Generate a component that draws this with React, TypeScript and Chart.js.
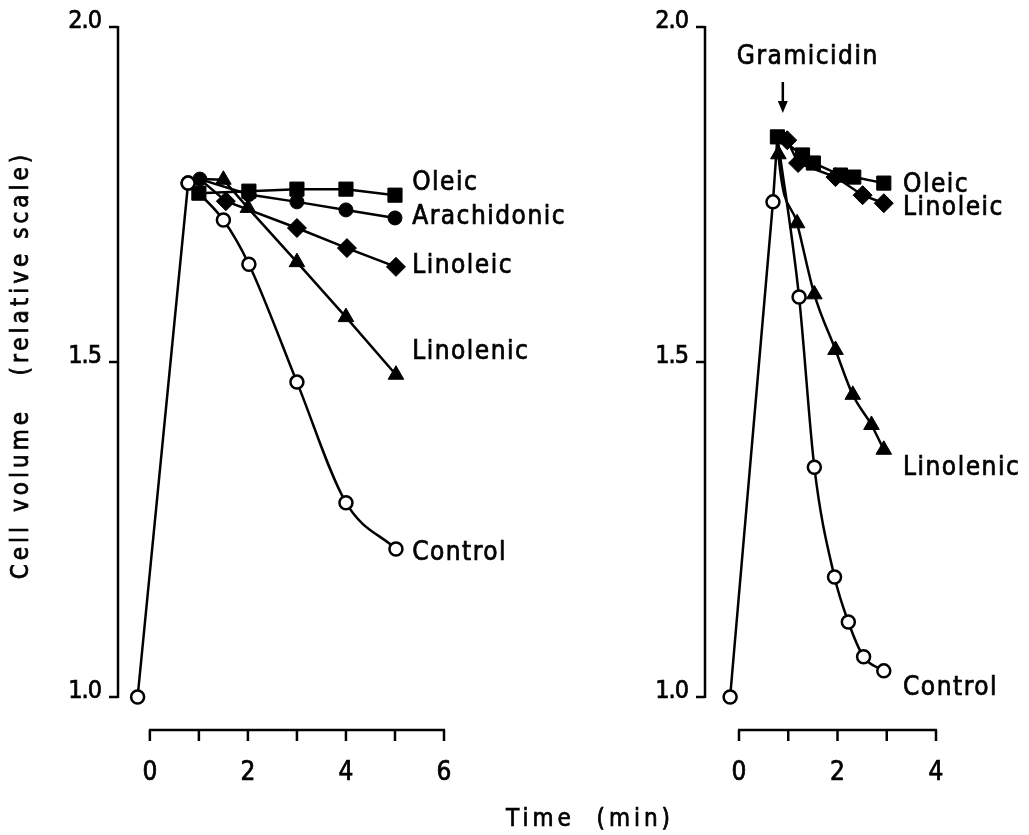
import React, { useEffect, useRef } from 'react';
import { Chart, registerables } from 'chart.js';
Chart.register(...registerables);

// ---------- data (time in min, relative cell volume) ----------
// Left panel
const L_CONTROL: number[][] = [[-0.25, 1.0], [0.78, 1.767], [1.5, 1.712], [2.02, 1.646], [3, 1.47], [4, 1.29], [5.02, 1.221]];
const L_START: number[] = [1.02, 1.773];
const L_OLEIC: number[][] = [[1.0, 1.752], [2.02, 1.755], [3, 1.758], [4, 1.758], [5, 1.749]];
const L_ARACHIDONIC: number[][] = [[1.02, 1.773], [2.02, 1.75], [3, 1.739], [4, 1.727], [5, 1.715]];
const L_LINOLEIC: number[][] = [[1.55, 1.74], [3, 1.7], [4.02, 1.67], [5.02, 1.642]];
const L_LINOLENIC: number[][] = [[1.5, 1.772], [2, 1.73], [3, 1.649], [4, 1.567], [5.02, 1.481]];

// Right panel
const R_CONTROL: number[][] = [[-0.18, 1.0], [0.69, 1.739], [0.78, 1.836], [1.22, 1.597], [1.53, 1.343], [1.94, 1.179], [2.22, 1.112], [2.53, 1.06], [2.94, 1.039]];
const R_PEAK: number[] = [0.78, 1.836];
const R_OLEIC: number[][] = [[0.78, 1.836], [1.29, 1.809], [1.51, 1.797], [2.06, 1.779], [2.33, 1.776], [2.94, 1.767]];
const R_LINOLEIC: number[][] = [[0.98, 1.831], [1.2, 1.797], [1.96, 1.776], [2.51, 1.749], [2.94, 1.737]];
const R_LINOLENIC: number[][] = [[0.8, 1.81], [1.18, 1.707], [1.53, 1.601], [1.96, 1.518], [2.31, 1.451], [2.69, 1.406], [2.94, 1.369]];

// Axis ticks
const Y_TICKS: number[] = [1.0, 1.5, 2.0];
const Y_TICK_LABELS: string[] = ['1.0', '1.5', '2.0'];
const L_X_TICKS: number[] = [0, 1, 2, 3, 4, 5, 6];
const L_X_LABELS: number[] = [0, 2, 4, 6];
const R_X_TICKS: number[] = [0, 1, 2, 3, 4];
const R_X_LABELS: number[] = [0, 2, 4];

// Series labels: [text, time, volume]
const L_SERIES_LABELS: [string, number, number][] = [
  ['Oleic', 5.35, 1.767],
  ['Arachidonic', 5.35, 1.716],
  ['Linoleic', 5.35, 1.643],
  ['Linolenic', 5.35, 1.515],
  ['Control', 5.35, 1.215],
];
const R_SERIES_LABELS: [string, number, number][] = [
  ['Oleic', 3.33, 1.764],
  ['Linoleic', 3.33, 1.73],
  ['Linolenic', 3.33, 1.342],
  ['Control', 3.33, 1.013],
];
const GRAMICIDIN_LABEL = 'Gramicidin';
const GRAMICIDIN_TIME = 0.89;
const Y_TITLE = 'Cell volume   (relative scale)';
const X_TITLE = 'Time  (min)';

const FONT = '"DejaVu Sans Condensed", "DejaVu Sans", sans-serif';

const toXY = (arr: number[][]) => arr.map(([x, y]) => ({ x, y }));

function boldText(ctx: CanvasRenderingContext2D, s: string, x: number, y: number) {
  ctx.fillText(s, x, y);
  ctx.save();
  ctx.lineWidth = 0.7;
  ctx.strokeText(s, x, y);
  ctx.restore();
}

const decor = {
  id: 'decor',
  afterDraw(chart: any, _a: any, opts: any) {
    const { ctx } = chart;
    const xs = chart.scales.x;
    const ys = chart.scales.y;
    ctx.save();
    ctx.strokeStyle = '#000';
    ctx.fillStyle = '#000';
    ctx.lineWidth = 2.5;
    ctx.lineCap = 'butt';
    // y axis
    const ax = chart.chartArea.left;
    const yTop = ys.getPixelForValue(Y_TICKS[Y_TICKS.length - 1]);
    const yBot = ys.getPixelForValue(Y_TICKS[0]);
    ctx.beginPath();
    ctx.moveTo(ax, yTop - 1);
    ctx.lineTo(ax, yBot + 1);
    Y_TICKS.forEach((v) => {
      const py = ys.getPixelForValue(v);
      ctx.moveTo(ax - 9, py);
      ctx.lineTo(ax, py);
    });
    ctx.stroke();
    ctx.font = `25px ${FONT}`;
    (ctx as any).letterSpacing = '-1px';
    ctx.textAlign = 'right';
    ctx.textBaseline = 'middle';
    Y_TICKS.forEach((v, i) => {
      boldText(ctx, Y_TICK_LABELS[i], ax - 17, ys.getPixelForValue(v) - 6);
    });
    // x axis (detached, below plot)
    const axY = yBot + 33;
    const xt: number[] = opts.xTicks;
    ctx.beginPath();
    ctx.moveTo(xs.getPixelForValue(xt[0]) - 1, axY);
    ctx.lineTo(xs.getPixelForValue(xt[xt.length - 1]) + 1, axY);
    xt.forEach((t) => {
      const px = xs.getPixelForValue(t);
      ctx.moveTo(px, axY);
      ctx.lineTo(px, axY + 11);
    });
    ctx.stroke();
    ctx.font = `26px ${FONT}`;
    (ctx as any).letterSpacing = '0px';
    ctx.textAlign = 'center';
    (opts.xLabels as number[]).forEach((t) => {
      boldText(ctx, String(t), xs.getPixelForValue(t), axY + 43);
    });
    // series labels
    ctx.textAlign = 'left';
    ctx.font = `26px ${FONT}`;
    (ctx as any).letterSpacing = '1.5px';
    (opts.labels as [string, number, number][]).forEach(([s, t, v]) => {
      boldText(ctx, s, xs.getPixelForValue(t), ys.getPixelForValue(v));
    });
    // arrow annotation
    if (opts.arrow) {
      const px = xs.getPixelForValue(opts.arrow.t);
      const y1 = yTop + 55;
      const y2 = yTop + 86;
      ctx.beginPath();
      ctx.moveTo(px, y1);
      ctx.lineTo(px, y2 - 8);
      ctx.stroke();
      ctx.beginPath();
      ctx.moveTo(px - 5, y2 - 12);
      ctx.lineTo(px + 5, y2 - 12);
      ctx.lineTo(px, y2);
      ctx.closePath();
      ctx.fill();
      ctx.textAlign = 'center';
      boldText(ctx, opts.arrow.text, px + 25, yTop + 30);
    }
    // y title
    if (opts.yTitle) {
      ctx.save();
      ctx.translate(22, (yTop + yBot) / 2 + 3);
      ctx.rotate(-Math.PI / 2);
      ctx.textAlign = 'center';
      ctx.font = `24px ${FONT}`;
      (ctx as any).letterSpacing = '4px';
      boldText(ctx, opts.yTitle, 0, 0);
      ctx.restore();
    }
    if (opts.xTitle) {
      ctx.textAlign = 'center';
      ctx.font = `24px ${FONT}`;
      (ctx as any).letterSpacing = '4px';
      boldText(ctx, opts.xTitle, opts.xTitleX, axY + 90);
    }
    ctx.restore();
  },
};

type Style = 'open' | 'circle' | 'rect' | 'rectRot' | 'triangle';

function ds(arr: number[][], style: Style, hide: number[] = [], curve = false) {
  const radius: Record<Style, number> = { open: 6.5, circle: 7, rect: 10, rectRot: 9.5, triangle: 9 };
  return {
    data: toXY(arr),
    borderColor: '#000',
    borderWidth: 2.5,
    tension: 0,
    cubicInterpolationMode: curve ? 'monotone' : 'default',
    pointStyle: style === 'open' ? 'circle' : style,
    pointRadius: (c: any) => (hide.includes(c.dataIndex) ? 0 : radius[style]),
    pointBackgroundColor: style === 'open' ? '#fff' : '#000',
    pointBorderColor: '#000',
    pointBorderWidth: style === 'open' ? 2.5 : 1,
    clip: false,
    fill: false,
  };
}

function makeConfig(datasets: any[], xMin: number, xMax: number, padding: any, decorOpts: any) {
  return {
    type: 'line' as const,
    data: { datasets },
    options: {
      responsive: false,
      animation: false,
      events: [],
      layout: { padding },
      plugins: { legend: { display: false }, tooltip: { enabled: false }, decor: decorOpts },
      scales: {
        x: { type: 'linear', min: xMin, max: xMax, display: false },
        y: { type: 'linear', min: 1.0, max: 2.0, display: false },
      },
    },
    plugins: [decor],
  };
}

export default function App() {
  const leftRef = useRef<HTMLCanvasElement>(null);
  const rightRef = useRef<HTMLCanvasElement>(null);

  useEffect(() => {
    const leftSets = [
      ds(L_CONTROL.slice(0, 2), 'open'),
      ds(L_CONTROL.slice(1), 'open', [], true),
      ds(L_ARACHIDONIC, 'circle'),
      ds(L_OLEIC, 'rect'),
      ds([L_START, ...L_LINOLEIC], 'rectRot', [0]),
      ds([L_START, ...L_LINOLENIC], 'triangle', [0]),
    ];
    const rightSets = [
      ds(R_CONTROL.slice(0, 3), 'open', [2]),
      ds(R_CONTROL.slice(2), 'open', [0], true),
      ds(R_OLEIC, 'rect'),
      ds([R_PEAK, ...R_LINOLEIC], 'rectRot', [0]),
      ds([R_PEAK, ...R_LINOLENIC], 'triangle', [0], true),
    ];
    const left = new Chart(
      leftRef.current as HTMLCanvasElement,
      makeConfig(leftSets, -0.65, 6, { left: 118, right: 585, top: 27, bottom: 138 }, {
        xTicks: L_X_TICKS,
        xLabels: L_X_LABELS,
        labels: L_SERIES_LABELS,
        yTitle: Y_TITLE,
        xTitle: X_TITLE,
        xTitleX: 590,
      }) as any
    );
    const right = new Chart(
      rightRef.current as HTMLCanvasElement,
      makeConfig(rightSets, -0.69, 4, { left: 705, right: 93, top: 27, bottom: 138 }, {
        xTicks: R_X_TICKS,
        xLabels: R_X_LABELS,
        labels: R_SERIES_LABELS,
        arrow: { t: GRAMICIDIN_TIME, text: GRAMICIDIN_LABEL },
      }) as any
    );
    return () => {
      left.destroy();
      right.destroy();
    };
  }, []);

  const cs: React.CSSProperties = { position: 'absolute', left: 0, top: 0, width: 1029, height: 835 };
  return (
    <div style={{ position: 'fixed', left: 0, top: 0, width: 1029, height: 835, background: '#fff' }}>
      <canvas ref={leftRef} width={1029} height={835} style={cs} />
      <canvas ref={rightRef} width={1029} height={835} style={cs} />
    </div>
  );
}
